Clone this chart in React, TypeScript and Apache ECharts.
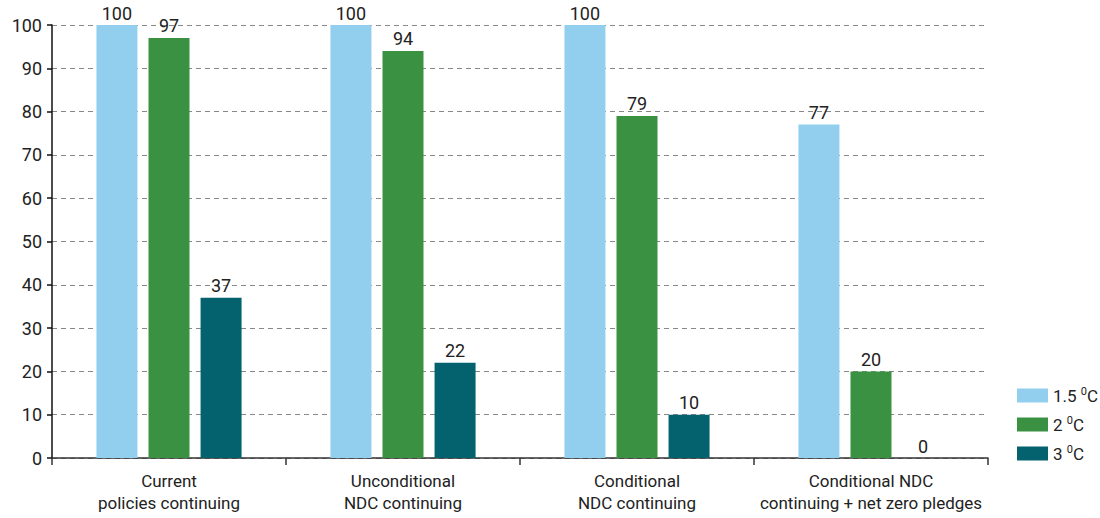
import React, { useEffect, useRef } from "react";
import * as echarts from "echarts";

const categories = [
  "Current\npolicies continuing",
  "Unconditional\nNDC continuing",
  "Conditional\nNDC continuing",
  "Conditional NDC\ncontinuing + net zero pledges",
];
const s15 = [100, 100, 100, 77];
const s2 = [97, 94, 79, 20];
const s3 = [37, 22, 10, 0];
const seriesNames = ["1.5 0C", "2 0C", "3 0C"];
const colors = ["#92CFEF", "#3A9142", "#04616E"];

const FONT = "Roboto, 'Noto Sans', sans-serif";

export default function App() {
  const ref = useRef<HTMLDivElement>(null);
  useEffect(() => {
    if (!ref.current) return;
    const chart = echarts.init(ref.current, null, { renderer: "svg" });
    const mk = (name: string, data: number[], color: string) => ({
      name,
      type: "bar",
      data,
      barWidth: 41,
      barGap: "27%",
      itemStyle: { color },
      label: {
        show: true,
        position: "top",
        distance: 3,
        color: "#222",
        fontSize: 18,
        fontFamily: FONT,
      },
    });
    chart.setOption({
      animation: false,
      textStyle: { fontFamily: FONT },
      grid: { left: 52, right: 112, top: 25, bottom: 60 },
      legend: {
        orient: "vertical",
        left: 1017,
        top: 386,
        padding: 0,
        itemWidth: 31,
        itemHeight: 14,
        itemGap: 11,
        itemTextGap: 6,
        icon: "rect",
        data: seriesNames,
        formatter: (n: string) => {
          const parts = n.split(" ");
          return `{a|${parts[0]} }{s|0}{a|C}`;
        },
        textStyle: {
          rich: {
            a: { fontSize: 17, color: "#222", fontFamily: FONT },
            s: { fontSize: 11, color: "#222", fontFamily: FONT, verticalAlign: "top", padding: [0, 0, 8, 0] },
          },
        },
      },
      xAxis: {
        type: "category",
        data: categories,
        axisLine: { lineStyle: { color: "#333", width: 1.5 } },
        axisTick: { show: true, length: 7, lineStyle: { color: "#333", width: 1.5 } },
        axisLabel: {
          interval: 0,
          color: "#222",
          fontSize: 17,
          lineHeight: 22,
          margin: 12,
          fontFamily: FONT,
        },
      },
      yAxis: {
        type: "value",
        min: 0,
        max: 100,
        interval: 10,
        axisLine: { show: true, lineStyle: { color: "#111", width: 1.5 } },
        axisTick: { show: true, length: 5, lineStyle: { color: "#111", width: 1.5 } },
        axisLabel: { color: "#222", fontSize: 18, margin: 10, fontFamily: FONT },
        splitLine: { lineStyle: { color: "#888", type: [5, 4], width: 1 } },
      },
      series: [mk(seriesNames[0], s15, colors[0]), mk(seriesNames[1], s2, colors[1]), mk(seriesNames[2], s3, colors[2])],
    });
    return () => chart.dispose();
  }, []);
  return <div ref={ref} style={{ width: 1100, height: 518, position: "absolute", left: 0, top: 0 }} />;
}
